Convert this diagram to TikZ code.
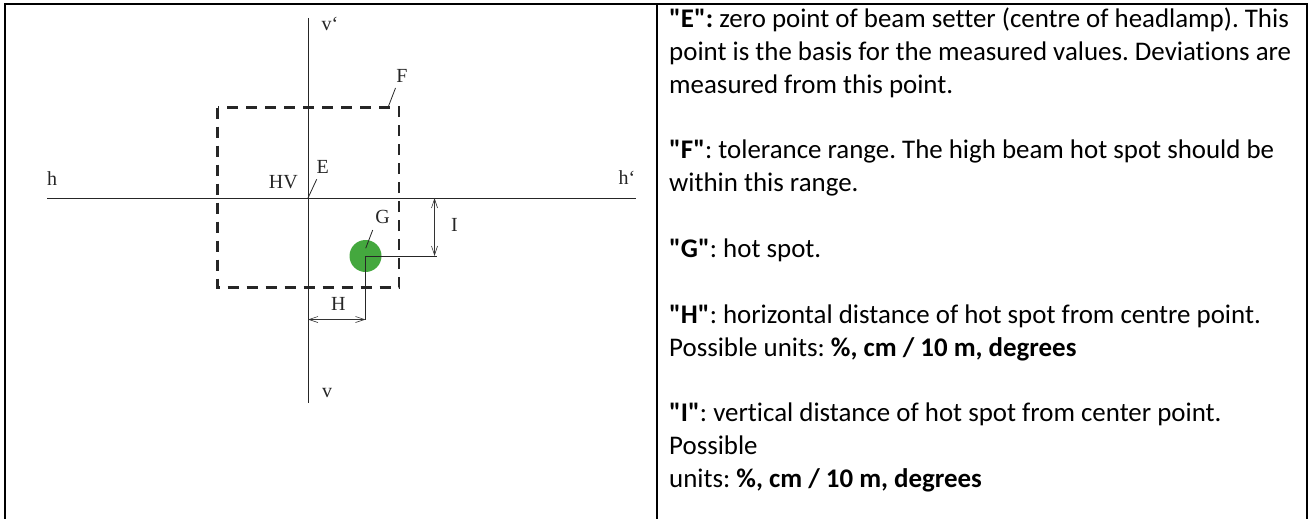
\documentclass[tikz,border=0pt]{standalone}
\usepackage{fontspec}
\setmainfont{Carlito}[Ligatures={TeXOff,CommonOff}]
\newfontfamily\labelfont{Liberation Serif}
\usetikzlibrary{arrows.meta}
\definecolor{spotgreen}{RGB}{68,168,62}

\begin{document}
\frenchspacing
\begin{tikzpicture}[x=1pt,y=-1pt,
  frame/.style={line width=2pt},
  axis/.style={line width=1pt,black!85},
  tol/.style={line width=2.2pt,black!85,dash pattern=on 11pt off 8pt},
  thinline/.style={line width=0.8pt,black!85},
  dim/.style={line width=0.6pt,black!80,{Straight Barb[length=9pt,width=6pt]}-{Straight Barb[length=9pt,width=6pt]}},
  lbl/.style={font=\labelfont\fontsize{20}{24}\selectfont,inner sep=0pt,text=black!85},
  txt/.style={font=\fontsize{26.9}{33}\selectfont\frenchspacing,anchor=base west,inner sep=0pt},
  spot/.style={circle,fill=spotgreen,minimum size=32pt,inner sep=0pt}]
\useasboundingbox (0,0) rectangle (1311,519);
\draw[frame] (5,519) -- (5,4) -- (1307,4) -- (1307,519);
\draw[frame] (657,4) -- (657,519);

\coordinate (HV) at (308,198);
\coordinate (hL) at (47,198);
\coordinate (hR) at (636,198);
\coordinate (vT) at (308,18);
\coordinate (vB) at (308,403);
\coordinate (Fnw) at (217.5,107.5);
\coordinate (Fse) at (399,287.5);
\coordinate (Ftip) at (388,107.5);
\coordinate (Fend) at (395.5,88);
\coordinate (Eend) at (316.7,179.3);
\coordinate (Gtip) at (365.7,248.3);
\coordinate (Gend) at (372.7,230);
\coordinate (Itop) at (434.5,198);
\coordinate (Ibot) at (434.5,256);
\coordinate (Lend) at (437,256);
\coordinate (Hleft) at (308,319.5);
\coordinate (Hright) at (365.5,319.5);

\draw[axis] (hL) -- (hR);
\draw[axis] (vT) -- (vB);
\draw[tol] (Fnw) rectangle (Fse);
\node[spot] (spot) at (365.5,256) {};
\draw[thinline] (spot.center) -- (Lend);
\draw[thinline] (spot.center) -- (Hright);
\draw[dim] (Itop) -- (Ibot);
\draw[dim] (Hleft) -- (Hright);
\draw[thinline] (HV) -- (Eend);
\draw[thinline] (Ftip) -- (Fend);
\draw[thinline] (Gtip) -- (Gend);

\node[lbl] (lblvt) at (330,24) {v‘};
\node[lbl] (lblvb) at (327,393) {v};
\node[lbl] (lblh) at (52,179) {h};
\node[lbl] (lblht) at (627,178) {h‘};
\node[lbl] (lblF) at (402,76) {F};
\node[lbl] (lblE) at (322.7,166.7) {E};
\node[lbl] (lblHV) at (283.3,182.3) {HV};
\node[lbl] (lblG) at (382.7,216.7) {G};
\node[lbl] (lblI) at (454.5,225) {I};
\node[lbl] (lblH) at (338.3,304) {H};

\node[txt] (e1) at (669,27.5) {\textbf{"E":} zero point of beam setter (centre of headlamp). This};
\node[txt] (e2) at (669,60.4) {point is the basis for the measured values. Deviations are};
\node[txt] (e3) at (669,93.2) {measured from this point.};
\node[txt] (f1) at (669,158.9) {\textbf{"F"}: tolerance range. The high beam hot spot should be};
\node[txt] (f2) at (669,191.8) {within this range.};
\node[txt] (g1) at (669,257.5) {\textbf{"G"}: hot spot.};
\node[txt] (h1) at (669,323.2) {\textbf{"H"}: horizontal distance of hot spot from centre point.};
\node[txt] (h2) at (669,356.1) {Possible units: \textbf{\%, cm / 10 m, degrees}};
\node[txt] (i1) at (669,421.8) {\textbf{"I"}: vertical distance of hot spot from center point.};
\node[txt] (i2) at (669,454.7) {Possible};
\node[txt] (i3) at (669,487.5) {units: \textbf{\%, cm / 10 m, degrees}};
\end{tikzpicture}
\end{document}
